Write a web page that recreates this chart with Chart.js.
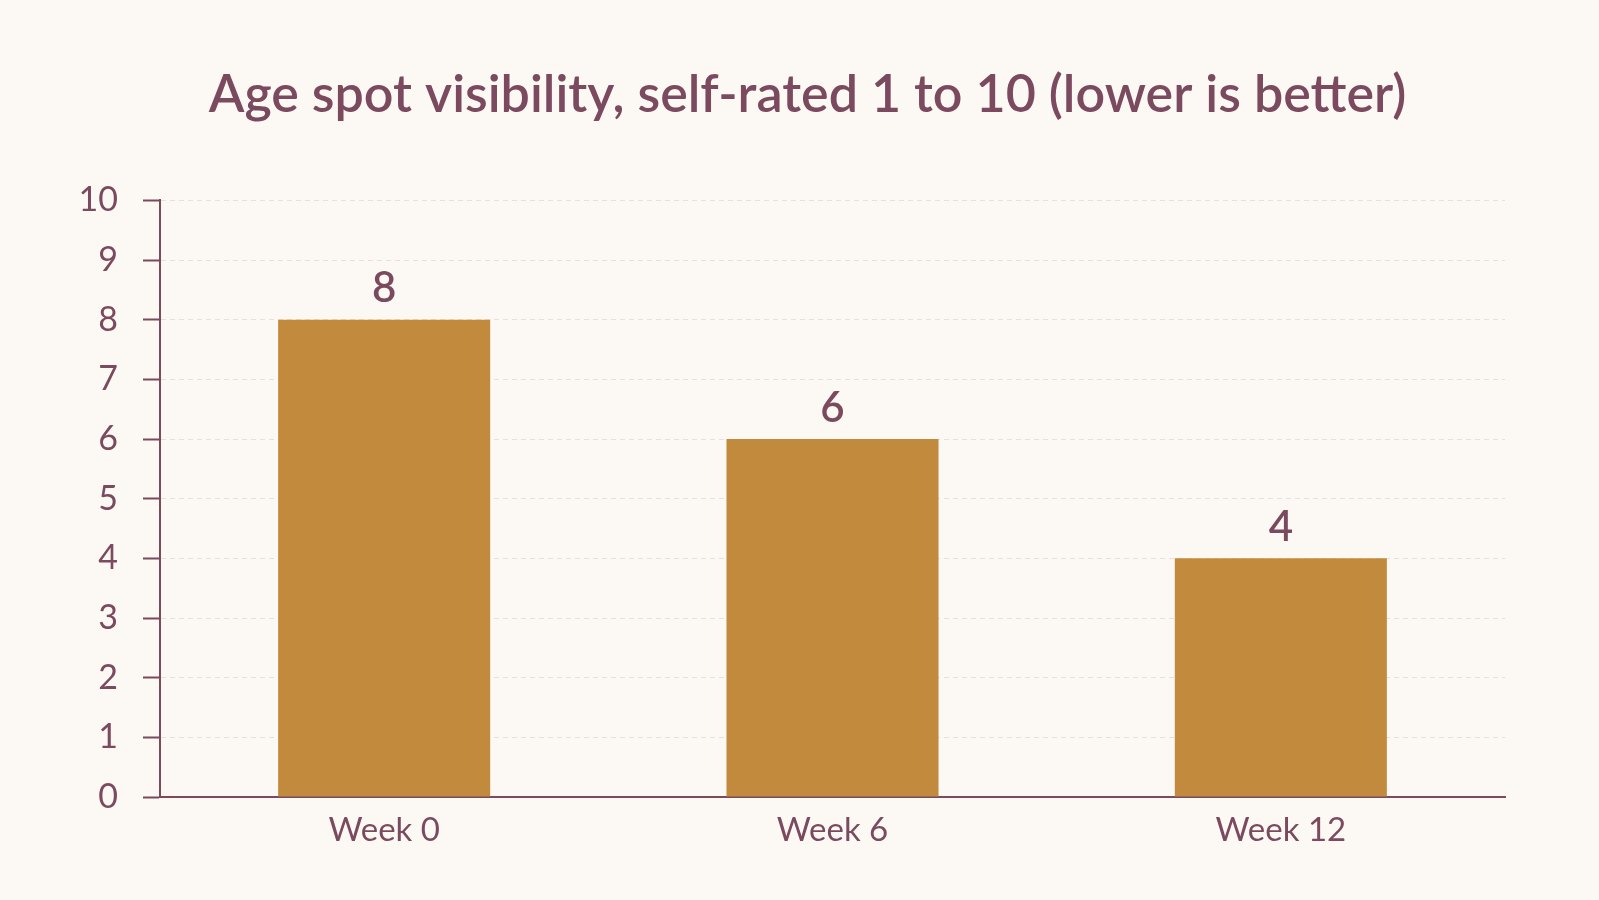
<!DOCTYPE html>
<html>
<head>
<meta charset="utf-8">
<title>Age spot visibility</title>
<script src="https://cdn.jsdelivr.net/npm/chart.js@4.4.0/dist/chart.umd.min.js"></script>
<style>
  html, body { margin: 0; padding: 0; background: #fcf9f4; }
  canvas { display: block; }
</style>
</head>
<body>
<canvas id="chart" width="1599" height="900"></canvas>
<script>
// chart data
const weeks = ['Week 0', 'Week 6', 'Week 12'];
const ratings = [8, 6, 4];
const yTicks = [0, 1, 2, 3, 4, 5, 6, 7, 8, 9, 10];

const plum = '#7b4a5f';
const ochre = '#c28a3d';
const fontName = 'Lato, "Noto Sans", sans-serif';

// draws the value above each bar
const barValues = {
  id: 'barValues',
  afterDatasetsDraw(chart) {
    const ctx = chart.ctx;
    const meta = chart.getDatasetMeta(0);
    ctx.save();
    ctx.fillStyle = plum;
    ctx.font = '600 42px ' + fontName;
    ctx.textAlign = 'center';
    ctx.textBaseline = 'bottom';
    meta.data.forEach((bar, i) => {
      ctx.fillText(ratings[i], bar.x, bar.y - 10);
    });
    ctx.restore();
  }
};

new Chart(document.getElementById('chart'), {
  type: 'bar',
  data: {
    labels: weeks,
    datasets: [{
      label: 'Self-rated visibility',
      data: ratings,
      backgroundColor: ochre,
      borderWidth: 0,
      categoryPercentage: 1,
      barPercentage: 0.473
    }]
  },
  options: {
    responsive: false,
    animation: false,
    // left/right padding keeps the title centred where the reference has it
    layout: { padding: { left: 55, right: 39, top: 64, bottom: 0 } },
    plugins: {
      legend: { display: false },
      tooltip: { enabled: false },
      title: {
        display: true,
        text: 'Age spot visibility, self-rated 1 to 10 (lower is better)',
        color: plum,
        font: { family: fontName, size: 52, weight: '600' },
        padding: { top: 0, bottom: 74 }
      }
    },
    scales: {
      x: {
        grid: { display: false, drawTicks: false },
        border: { display: true, color: plum, width: 2 },
        ticks: {
          color: plum,
          font: { family: fontName, size: 33 },
          padding: 14
        },
        afterFit(scale) { scale.height = 103; }
      },
      y: {
        min: 0,
        max: 10,
        afterBuildTicks(scale) { scale.ticks = yTicks.map(v => ({ value: v })); },
        grid: {
          color: 'rgba(123, 74, 95, 0.14)',
          lineWidth: 1,
          tickColor: plum,
          tickWidth: 2,
          tickLength: 17
        },
        border: { display: true, color: plum, width: 2, dash: [5, 4] },
        ticks: {
          color: plum,
          font: { family: fontName, size: 34 },
          padding: 25
        },
        afterFit(scale) { scale.width = 105; }
      },
      // empty spacer on the right so the plot ends short of the title's edge
      spacer: {
        type: 'linear',
        position: 'right',
        display: true,
        grid: { display: false },
        border: { display: false },
        ticks: { display: false },
        afterFit(scale) { scale.width = 55; }
      }
    }
  },
  plugins: [barValues]
});
</script>
</body>
</html>
